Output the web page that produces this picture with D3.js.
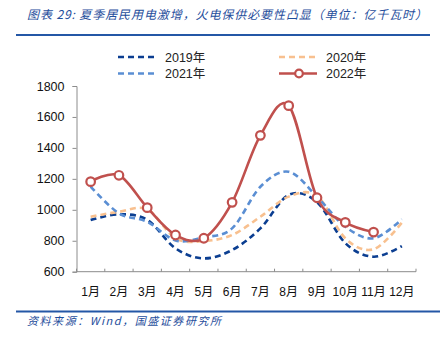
<!DOCTYPE html>
<html><head><meta charset="utf-8">
<script src="https://cdn.jsdelivr.net/npm/d3@7/dist/d3.min.js"></script>
<style>
body{margin:0;background:#fff;}
svg{display:block;font-family:"Liberation Sans","DejaVu Sans","Noto Sans CJK SC",sans-serif;}
</style></head><body>
<script>
const months = ["1月","2月","3月","4月","5月","6月","7月","8月","9月","10月","11月","12月"];
const yTicks = [600,800,1000,1200,1400,1600,1800];
const s2019 = [934,971,935,751,686,740,880,1096,1050,785,697,766];
const s2020 = [955,987,1003,816,798,837,955,1085,1090,816,745,917];
const s2021 = [1150,977,923,802,822,880,1149,1246,1085,891,816,939];
const s2022 = [1182,1223,1014,837,816,1048,1481,1673,1078,919,856,null];
const seriesNames = ["2019年","2020年","2021年","2022年"];
const titleText = "图表 29:  夏季居民用电激增，火电保供必要性凸显（单位：亿千瓦时）";
const sourceText = "资料来源：Wind，国盛证券研究所";

const W=444,H=340;
const svg=d3.select("body").append("svg").attr("width",W).attr("height",H);
const blue="#1f4e9c";
svg.append("text").attr("x",27).attr("y",19).attr("fill",blue).attr("font-size",12)
  .attr("font-style","italic").attr("font-family","'Noto Sans CJK SC',sans-serif")
  .attr("textLength",400).attr("lengthAdjust","spacing").text(titleText);
svg.append("line").attr("x1",16).attr("x2",430).attr("y1",35).attr("y2",35).attr("stroke","#2457a6").attr("stroke-width",2);
svg.append("line").attr("x1",16).attr("x2",440).attr("y1",311.5).attr("y2",311.5).attr("stroke","#2457a6").attr("stroke-width",2);
svg.append("text").attr("x",27).attr("y",325).attr("fill",blue).attr("font-size",11)
  .attr("font-style","italic").attr("font-family","'Noto Sans CJK SC',sans-serif")
  .attr("textLength",194).attr("lengthAdjust","spacing").text(sourceText);

const x=d3.scaleBand().domain(months).range([76.5,416]);
const y=d3.scaleLinear().domain([600,1800]).range([271.7,86]);
const cx=m=>x(m)+x.bandwidth()/2;

const gy=svg.append("g").attr("transform","translate(76.5,0)")
  .call(d3.axisLeft(y).tickValues(yTicks).tickSize(4).tickPadding(8).tickFormat(d3.format("d")));
gy.selectAll("text").attr("font-size",12.5).attr("fill","#111").attr("font-family","'Liberation Sans',sans-serif");
gy.select(".domain").attr("stroke","#8c8c8c");
gy.selectAll(".tick line").attr("stroke","#8c8c8c");

const gx=svg.append("g").attr("transform","translate(0,271.7)");
gx.append("line").attr("x1",76.5).attr("x2",416).attr("stroke","#8c8c8c");
const bounds=months.map(m=>x(m)).concat([416]);
gx.selectAll("line.t").data(bounds).join("line").attr("class","t")
  .attr("x1",d=>d).attr("x2",d=>d).attr("y1",0).attr("y2",-3).attr("stroke","#8c8c8c");
gx.selectAll("text").data(months).join("text").attr("x",d=>cx(d)).attr("y",24)
  .attr("text-anchor","middle").attr("font-size",12).attr("fill","#111")
  .attr("font-family","'Liberation Sans','Noto Sans CJK SC',sans-serif").text(d=>d);

const styles=[
  {data:s2019,color:"#0b3e91",dash:"6,4"},
  {data:s2020,color:"#f8c08f",dash:"6,4"},
  {data:s2021,color:"#5a8ed3",dash:"6,4"},
  {data:s2022,color:"#c0504d",dash:null}
];
const line=d3.line().defined(d=>d[1]!=null).x(d=>cx(d[0])).y(d=>y(d[1])).curve(d3.curveCardinal.tension(0));
styles.forEach(s=>{
  const pts=months.map((m,i)=>[m,s.data[i]]);
  svg.append("path").attr("d",line(pts)).attr("fill","none").attr("stroke",s.color)
    .attr("stroke-width",2.6).attr("stroke-dasharray",s.dash);
});
const pts22=months.map((m,i)=>[m,s2022[i]]).filter(d=>d[1]!=null);
svg.selectAll("circle.p").data(pts22).join("circle").attr("class","p")
  .attr("cx",d=>cx(d[0])).attr("cy",d=>y(d[1])).attr("r",4.3)
  .attr("fill","#fff").attr("stroke","#c0504d").attr("stroke-width",2.2);

// legend
const leg=[{x:118,y:57},{x:279,y:57},{x:118,y:73.5},{x:279,y:73.5}];
styles.forEach((s,i)=>{
  const p=leg[i];
  svg.append("line").attr("x1",p.x).attr("x2",p.x+38).attr("y1",p.y).attr("y2",p.y)
    .attr("stroke",s.color).attr("stroke-width",2.6).attr("stroke-dasharray",s.dash?"6,4":null);
  if(!s.dash) svg.append("circle").attr("cx",p.x+20).attr("cy",p.y).attr("r",3.8)
    .attr("fill","#fff").attr("stroke",s.color).attr("stroke-width",2.2);
  svg.append("text").attr("x",p.x+47).attr("y",p.y+4.5).attr("font-size",12.5).attr("fill","#222")
    .attr("font-family","'Liberation Sans','Noto Sans CJK SC',sans-serif").text(seriesNames[i]);
});
</script></body></html>
